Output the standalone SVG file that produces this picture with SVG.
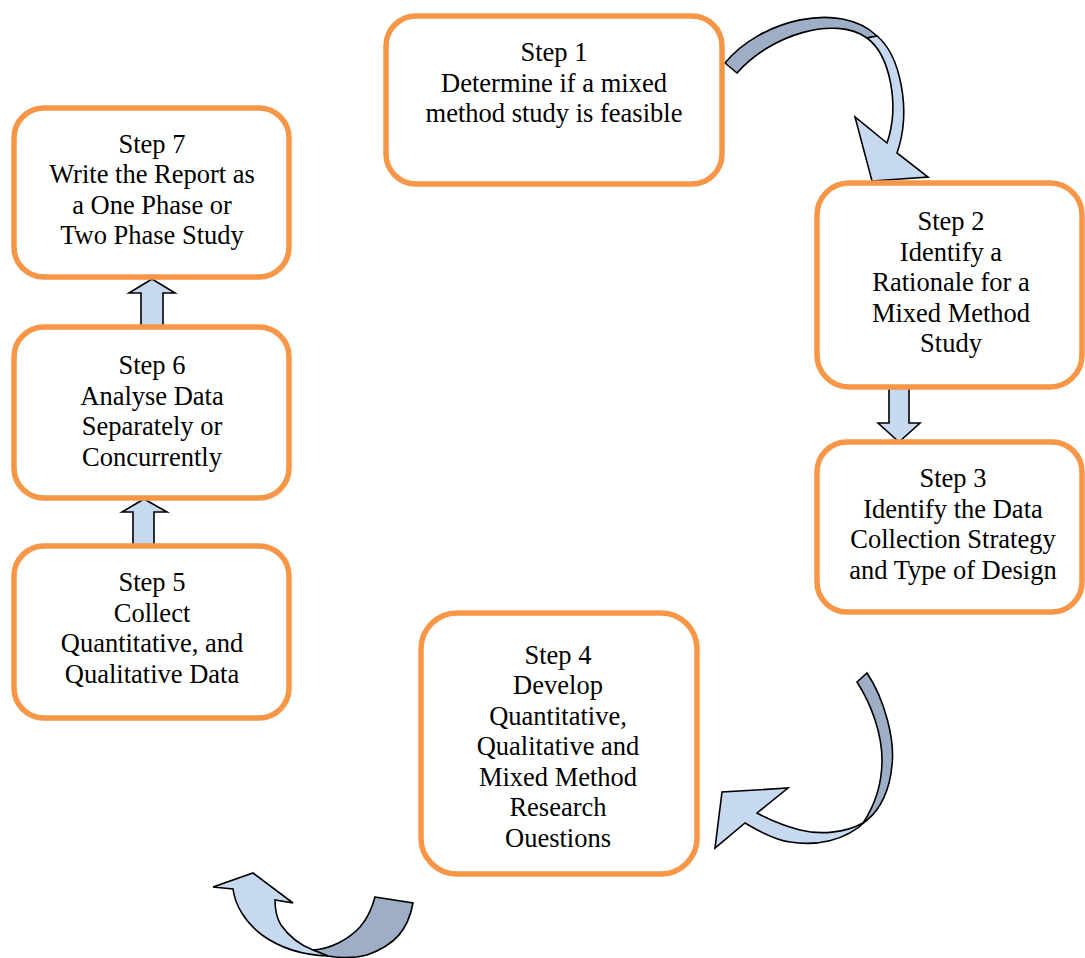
<svg xmlns="http://www.w3.org/2000/svg" width="1085" height="958" viewBox="0 0 1085 958">
<style>
.box{fill:#fff;stroke:#F79646;stroke-width:5.5}
.t{font-family:"Liberation Serif","Times New Roman",serif;font-size:26.5px;fill:#000;text-anchor:middle}
.lt{fill:#C6D9F0;stroke:#000;stroke-width:1.6;stroke-linejoin:miter}
.dk{fill:#9DAEC6;stroke:#000;stroke-width:1.6;stroke-linejoin:miter}
</style>
<rect width="1085" height="958" fill="#fff"/>
<g id="connectors">
  <path class="dk" d="M725,63 C760,20 840,0 877,36 L867,38 C835,15 770,35 737,73 Z"/>
  <path class="lt" d="M867,38 C890,55 900,105 887,143 L855,117 L872,181 L928,177 L897,153 C912,110 900,55 877,36 Z"/>
  <path class="lt" d="M889,373 L909,373 L909,423 L920,423 L899,442 L878,423 L889,423 Z"/>
  <path class="dk" d="M857,682 L867,673 C885,700 895,740 892,765 C890,790 880,810 867,820 L863,823 C875,805 882,785 882,760 C882,735 872,705 857,682 Z"/>
  <path class="lt" d="M863,823 C845,833 820,835 800,830 C785,826 770,820 757,813 L788,788 L722,792 L715,848 L745,823 C760,832 775,840 790,842 C815,846 845,842 867,820 Z"/>
  <path class="dk" d="M375,897 L413,903 C408,930 395,945 367,955 C355,958 340,958 328,956 L313,950 C330,949 348,940 360,927 C368,918 372,908 375,897 Z"/>
  <path class="lt" d="M313,950 C300,945 288,935 281,925 C276,917 275,908 275,900 L293,903 L253,873 L213,887 L233,889 C235,905 245,922 262,935 C280,948 300,955 328,956 Z"/>
  <path class="lt" d="M133,548 L154,548 L154,512 L167,512 L144,499 L122,512 L133,512 Z"/>
  <path class="lt" d="M141,327 L163,327 L163,293 L175,293 L152,279 L129,293 L141,293 Z"/>
</g>
<g id="step1">
  <rect class="box" x="386" y="16" width="336" height="168" rx="30"/>
  <text class="t" x="554" y="61">Step 1</text>
  <text class="t" x="554" y="92">Determine if a mixed</text>
  <text class="t" x="554" y="122">method study is feasible</text>
</g>
<g id="step2">
  <rect class="box" x="817" y="183" width="265" height="204" rx="32"/>
  <text class="t" x="951" y="230">Step 2</text>
  <text class="t" x="951" y="261">Identify a</text>
  <text class="t" x="951" y="291">Rationale for a</text>
  <text class="t" x="951" y="322">Mixed Method</text>
  <text class="t" x="951" y="352">Study</text>
</g>
<g id="step3">
  <rect class="box" x="817" y="442" width="265" height="170" rx="30"/>
  <text class="t" x="953" y="487">Step 3</text>
  <text class="t" x="953" y="518">Identify the Data</text>
  <text class="t" x="953" y="548">Collection Strategy</text>
  <text class="t" x="953" y="579">and Type of Design</text>
</g>
<g id="step4">
  <rect class="box" x="421" y="613" width="276" height="261" rx="36"/>
  <text class="t" x="558" y="664">Step 4</text>
  <text class="t" x="558" y="694">Develop</text>
  <text class="t" x="558" y="725">Quantitative,</text>
  <text class="t" x="558" y="755">Qualitative and</text>
  <text class="t" x="558" y="786">Mixed Method</text>
  <text class="t" x="558" y="816">Research</text>
  <text class="t" x="558" y="847">Ouestions</text>
</g>
<g id="step5">
  <rect class="box" x="14" y="546" width="275" height="172" rx="30"/>
  <text class="t" x="152" y="591">Step 5</text>
  <text class="t" x="152" y="622">Collect</text>
  <text class="t" x="152" y="652">Quantitative, and</text>
  <text class="t" x="152" y="683">Qualitative Data</text>
</g>
<g id="step6">
  <rect class="box" x="14" y="327" width="275" height="171" rx="30"/>
  <text class="t" x="152" y="374">Step 6</text>
  <text class="t" x="152" y="405">Analyse Data</text>
  <text class="t" x="152" y="435">Separately or</text>
  <text class="t" x="152" y="466">Concurrently</text>
</g>
<g id="step7">
  <rect class="box" x="14" y="108" width="275" height="169" rx="30"/>
  <text class="t" x="152" y="153">Step 7</text>
  <text class="t" x="152" y="183">Write the Report as</text>
  <text class="t" x="152" y="214">a One Phase or</text>
  <text class="t" x="152" y="244">Two Phase Study</text>
</g>
</svg>
